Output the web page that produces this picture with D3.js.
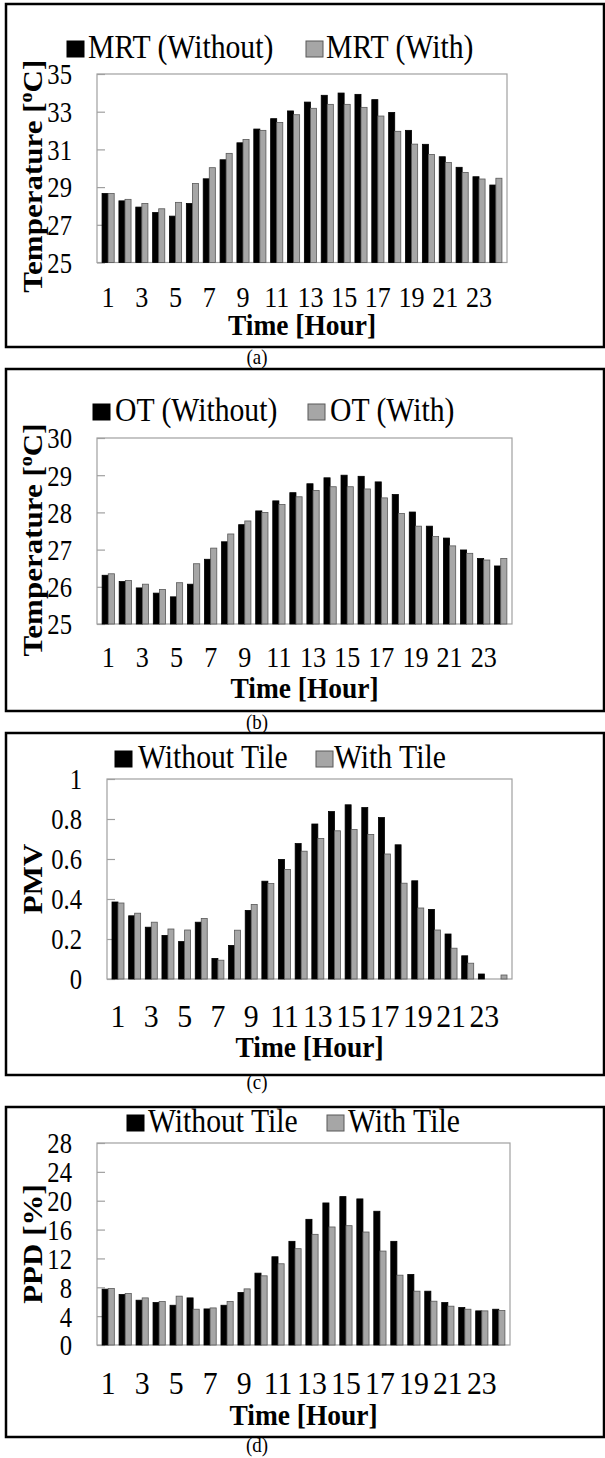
<!DOCTYPE html>
<html>
<head>
<meta charset="utf-8">
<script src="https://cdn.jsdelivr.net/npm/d3@7"></script>
<style>
  body { margin: 0; background: #fff; }
  svg { display: block; }
</style>
</head>
<body>
<div id="chart"></div>
<script>
'use strict';

// Hours on the x axis
const hours = [1, 2, 3, 4, 5, 6, 7, 8, 9, 10, 11, 12, 13, 14, 15, 16, 17, 18, 19, 20, 21, 22, 23, 24];
const hourLabels = [1, 3, 5, 7, 9, 11, 13, 15, 17, 19, 21, 23];

// (a) Mean radiant temperature [oC]
const mrtWithout = [28.66, 28.27, 27.94, 27.65, 27.46, 28.13, 29.44, 30.45, 31.35, 32.08, 32.63, 33.04,
                    33.51, 33.87, 33.99, 33.92, 33.64, 32.96, 32.01, 31.27, 30.61, 30.05, 29.55, 29.11];
const mrtWith    = [28.66, 28.35, 28.13, 27.85, 28.19, 29.19, 30.03, 30.79, 31.53, 32.01, 32.43, 32.84,
                    33.18, 33.39, 33.39, 33.23, 32.77, 31.96, 31.28, 30.73, 30.30, 29.78, 29.43, 29.47];

// (b) Operative temperature [oC]
const otWithout = [26.31, 26.14, 25.97, 25.83, 25.73, 26.07, 26.74, 27.21, 27.67, 28.04, 28.31, 28.53,
                   28.77, 28.93, 29.00, 28.97, 28.82, 28.48, 28.01, 27.63, 27.31, 26.99, 26.76, 26.56];
const otWith    = [26.35, 26.17, 26.07, 25.93, 26.11, 26.62, 27.04, 27.42, 27.77, 28.00, 28.21, 28.42,
                   28.59, 28.69, 28.69, 28.63, 28.39, 27.97, 27.63, 27.35, 27.10, 26.90, 26.72, 26.76];

// (c) PMV
const pmvWithout = [0.385, 0.316, 0.259, 0.218, 0.187, 0.284, 0.103, 0.168, 0.343, 0.489, 0.598, 0.677,
                    0.775, 0.837, 0.871, 0.857, 0.807, 0.671, 0.491, 0.348, 0.225, 0.116, 0.025, 0.0];
const pmvWith    = [0.380, 0.329, 0.284, 0.250, 0.245, 0.303, 0.094, 0.244, 0.373, 0.477, 0.548, 0.639,
                    0.703, 0.741, 0.748, 0.723, 0.625, 0.479, 0.355, 0.245, 0.154, 0.079, 0.0, 0.02];

// (d) PPD [%]
const ppdWithout = [7.74, 7.00, 6.21, 5.88, 5.51, 6.53, 5.00, 5.51, 7.28, 9.96, 12.23, 14.37,
                    17.42, 19.69, 20.57, 20.25, 18.54, 14.37, 9.78, 7.46, 5.88, 5.19, 4.73, 4.96];
const ppdWith    = [7.83, 7.14, 6.53, 6.02, 6.77, 4.96, 5.14, 6.02, 7.78, 9.59, 11.26, 13.35,
                    15.34, 16.36, 16.54, 15.66, 13.02, 9.68, 7.46, 6.07, 5.38, 4.96, 4.73, 4.77];

const W = 605, H = 1458;
const serif = '"Liberation Serif", "Times New Roman", serif';
const grayFill = '#a6a6a6', grayStroke = '#595959', axisGray = '#a0a0a0';
const sx = 0.9; // the original figure is a little squeezed sideways

const svg = d3.select('#chart').append('svg')
    .attr('width', W).attr('height', H)
    .style('font-family', serif);

// Panel layouts (positions only, data comes from the arrays above)
const panels = [
    {
        caption: '(a)', box: [6, 4, 604, 347],
        plot: [97, 74, 507, 262.5], domain: [25, 35], ticks: [25, 27, 29, 31, 33, 35],
        series: [mrtWithout, mrtWith], names: ['MRT (Without)', 'MRT (With)'],
        legend: { y: 58, key: [67, 306], text: [88, 326] },
        yLabelRight: 72, yTitle: 'temp', yTitleShift: 8,
        xTickY: 307, xTickSize: 29, xTitleY: 335, captionY: 364
    },
    {
        caption: '(b)', box: [6, 369, 604, 711],
        plot: [97, 438, 512, 624], domain: [25, 30], ticks: [25, 26, 27, 28, 29, 30],
        series: [otWithout, otWith], names: ['OT (Without)', 'OT (With)'],
        legend: { y: 421, key: [93, 308], text: [115, 330] },
        yLabelRight: 72, yTitle: 'temp', yTitleShift: 9,
        xTickY: 667, xTickSize: 29, xTitleY: 698, captionY: 729
    },
    {
        caption: '(c)', box: [6, 733, 604, 1075],
        plot: [107, 779, 512, 979], domain: [0, 1], ticks: [0, 0.2, 0.4, 0.6, 0.8, 1],
        series: [pmvWithout, pmvWith], names: ['Without Tile', 'With Tile'],
        legend: { y: 768, key: [115, 316], text: [138, 334] },
        yLabelRight: 82, yTitle: 'PMV', yTitleShift: 0,
        xTickY: 1027, xTickSize: 32, xTitleY: 1057, captionY: 1089
    },
    {
        caption: '(d)', box: [6, 1107, 604, 1437],
        plot: [97, 1143, 510, 1345], domain: [0, 28], ticks: [0, 4, 8, 12, 16, 20, 24, 28],
        series: [ppdWithout, ppdWith], names: ['Without Tile', 'With Tile'],
        legend: { y: 1132, key: [127, 327], text: [148, 348] },
        yLabelRight: 72, yTitle: 'PPD [%]', yTitleShift: 0,
        xTickY: 1394, xTickSize: 32, xTitleY: 1425, captionY: 1452
    }
];

panels.forEach(drawPanel);

// text squeezed horizontally like the source figure
function squeezedText(parent, x, y, str, size, opts = {}) {
    return parent.append('text')
        .attr('transform', `translate(${x},${y}) scale(${sx},1)`)
        .attr('text-anchor', opts.anchor || 'start')
        .attr('font-size', size)
        .attr('font-weight', opts.bold ? 'bold' : null)
        .text(str);
}

function drawPanel(p) {
    const [bx0, by0, bx1, by1] = p.box;
    const [px0, py0, px1, py1] = p.plot;

    // Outer frame
    svg.append('rect')
        .attr('x', bx0).attr('y', by0)
        .attr('width', bx1 - bx0).attr('height', by1 - by0)
        .attr('fill', 'none').attr('stroke', '#000').attr('stroke-width', 2.5);

    // Scales
    const x0 = d3.scaleBand().domain(hours).range([px0, px1])
        .paddingInner(0.28).paddingOuter(0.3);
    const x1 = d3.scaleBand().domain([0, 1]).range([0, x0.bandwidth()]);
    const y = d3.scaleLinear().domain(p.domain).range([py1, py0]);

    const g = svg.append('g');

    // Plot area border
    g.append('rect')
        .attr('x', px0).attr('y', py0)
        .attr('width', px1 - px0).attr('height', py1 - py0)
        .attr('fill', 'none').attr('stroke', axisGray).attr('stroke-width', 1.2);

    // Y axis (ticks point inside)
    const pad = px0 - p.yLabelRight;
    const yAxis = g.append('g')
        .attr('transform', `translate(${px0},0)`)
        .call(d3.axisLeft(y).tickValues(p.ticks).tickFormat(d => String(d))
            .tickSizeInner(-8).tickSizeOuter(0));
    yAxis.select('.domain').remove();
    yAxis.selectAll('line').attr('stroke', axisGray).attr('stroke-width', 1.2);
    yAxis.selectAll('text')
        .attr('x', null).attr('dy', '0.34em')
        .attr('transform', `translate(${-pad},0) scale(0.85,1)`)
        .attr('font-family', serif).attr('font-size', 29).attr('fill', '#000');
    yAxis.attr('font-family', null).attr('font-size', null);

    // Bars
    p.series.forEach((vals, si) => {
        g.append('g').selectAll('rect')
            .data(hours.map((h, i) => ({ h, v: vals[i] })))
            .join('rect')
            .attr('x', d => x0(d.h) + x1(si))
            .attr('y', d => y(Math.max(d.v, p.domain[0])))
            .attr('width', x1.bandwidth())
            .attr('height', d => y(p.domain[0]) - y(Math.max(d.v, p.domain[0])))
            .attr('fill', si === 0 ? '#000' : grayFill)
            .attr('stroke', si === 0 ? '#000' : grayStroke)
            .attr('stroke-width', 0.8);
    });

    // X axis labels
    const xAxis = g.append('g')
        .attr('transform', `translate(0,${py1})`)
        .call(d3.axisBottom(x0).tickValues(hourLabels).tickSize(0));
    xAxis.select('.domain').remove();
    xAxis.selectAll('text')
        .attr('y', null).attr('dy', null)
        .attr('transform', `translate(0,${p.xTickY - py1}) scale(${p.xTickSize > 30 ? 0.93 : sx},1)`)
        .attr('font-family', serif).attr('font-size', p.xTickSize).attr('fill', '#000');
    xAxis.attr('font-family', null).attr('font-size', null);

    // X title
    squeezedText(svg, (px0 + px1) / 2, p.xTitleY, 'Time [Hour]', 30.5, { anchor: 'middle', bold: true });

    // Y title (baseline on the right side after rotation)
    const yt = svg.append('text')
        .attr('transform', `translate(42,${(py0 + py1) / 2 + p.yTitleShift}) rotate(-90) scale(1,${sx})`)
        .attr('text-anchor', 'middle')
        .attr('font-size', 31).attr('font-weight', 'bold');
    if (p.yTitle === 'temp') {
        yt.append('tspan').text('Temperature [');
        yt.append('tspan').attr('font-size', 20).attr('dy', -11).text('o');
        yt.append('tspan').attr('dy', 11).text('C]');
    } else {
        yt.text(p.yTitle);
    }

    // Legend
    p.names.forEach((name, i) => {
        svg.append('rect')
            .attr('x', p.legend.key[i]).attr('y', p.legend.y - 17)
            .attr('width', 17).attr('height', 16)
            .attr('fill', i === 0 ? '#000' : grayFill)
            .attr('stroke', i === 0 ? '#000' : grayStroke)
            .attr('stroke-width', 1);
        squeezedText(svg, p.legend.text[i], p.legend.y, name, 33);
    });

    // Caption under the frame
    squeezedText(svg, 257, p.captionY, p.caption, 21, { anchor: 'middle' });
}
</script>
</body>
</html>
